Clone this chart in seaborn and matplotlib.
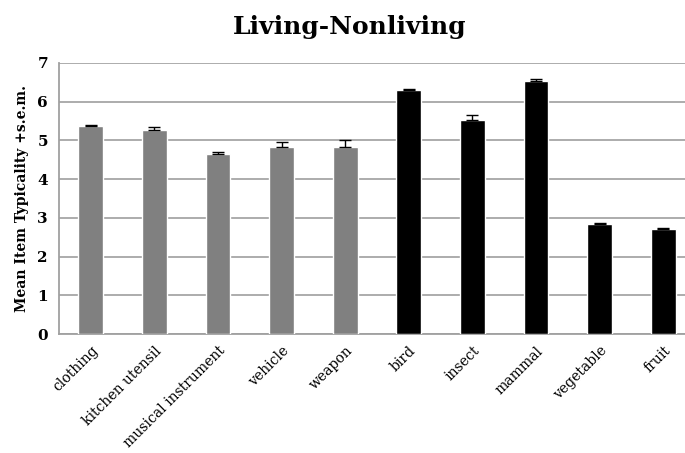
import matplotlib
matplotlib.use("Agg")
import matplotlib.pyplot as plt
import seaborn as sns
import pandas as pd
import numpy as np

# --- datos ---
categorias = ["clothing", "kitchen utensil", "musical instrument", "vehicle", "weapon",
              "bird", "insect", "mammal", "vegetable", "fruit"]
grupos = ["nonliving"] * 5 + ["living"] * 5
medias = [5.36, 5.27, 4.66, 4.84, 4.84, 6.30, 5.53, 6.53, 2.84, 2.71]
sem = [0.05, 0.07, 0.04, 0.12, 0.18, 0.02, 0.12, 0.05, 0.03, 0.04]
yticks = [0, 1, 2, 3, 4, 5, 6, 7]

df = pd.DataFrame({"categoria": categorias, "grupo": grupos, "media": medias, "sem": sem})

sns.set_style("white")
plt.rcParams["font.family"] = ["DejaVu Serif"]
plt.rcParams["text.color"] = "black"
plt.rcParams["axes.labelcolor"] = "black"
plt.rcParams["xtick.labelcolor"] = "black"
plt.rcParams["ytick.labelcolor"] = "black"

fig = plt.figure(figsize=(6.85, 4.53), dpi=100)
ax = fig.add_axes([59 / 685, 1 - 334 / 453, (695 - 59) / 685, (334 - 63) / 453])

sns.barplot(data=df, x="categoria", y="media", hue="grupo",
            palette={"nonliving": "#808080", "living": "#000000"},
            dodge=False, width=0.39, legend=False, ax=ax, zorder=3)

# barras de error solo hacia arriba (+s.e.m.)
ax.errorbar(np.arange(len(categorias)), df["media"],
            yerr=[np.zeros(len(sem)), df["sem"]],
            fmt="none", ecolor="black", elinewidth=1, capsize=4, capthick=1, zorder=4)

ax.set_ylim(0, 7)
ax.set_xlim(-0.5, len(categorias) - 0.5)
ax.set_yticks(yticks)
ax.set_yticklabels([str(t) for t in yticks], fontsize=11, fontweight="bold")
ax.yaxis.grid(True, color="#a6a6a6", linewidth=1.3, zorder=0)
ax.set_axisbelow(True)

# ticks de x en los limites de categoria
ax.set_xticks(np.arange(len(categorias)))
ax.set_xticklabels(categorias, rotation=45, ha="right", rotation_mode="anchor", fontsize=10)
ax.set_xticks(np.arange(len(categorias) + 1) - 0.5, minor=True)
ax.tick_params(axis="x", which="major", length=0, pad=7)
ax.tick_params(axis="x", which="minor", length=4, color="#a0a0a0", width=1, direction="out")
ax.tick_params(axis="y", length=4, color="#a0a0a0", width=1, direction="out", pad=4)

for lado in ["top", "right"]:
    ax.spines[lado].set_visible(False)
for lado in ["left", "bottom"]:
    ax.spines[lado].set_color("#a0a0a0")
    ax.spines[lado].set_linewidth(1.3)

ax.set_xlabel("")
ax.set_ylabel("Mean Item Typicality +s.e.m.", fontsize=10, fontweight="bold", labelpad=6)
fig.text(350 / 685, 1 - 27 / 453, "Living-Nonliving", ha="center", va="center",
         fontsize=18, fontweight="bold", color="black")

fig.savefig("out.png", dpi=100)
